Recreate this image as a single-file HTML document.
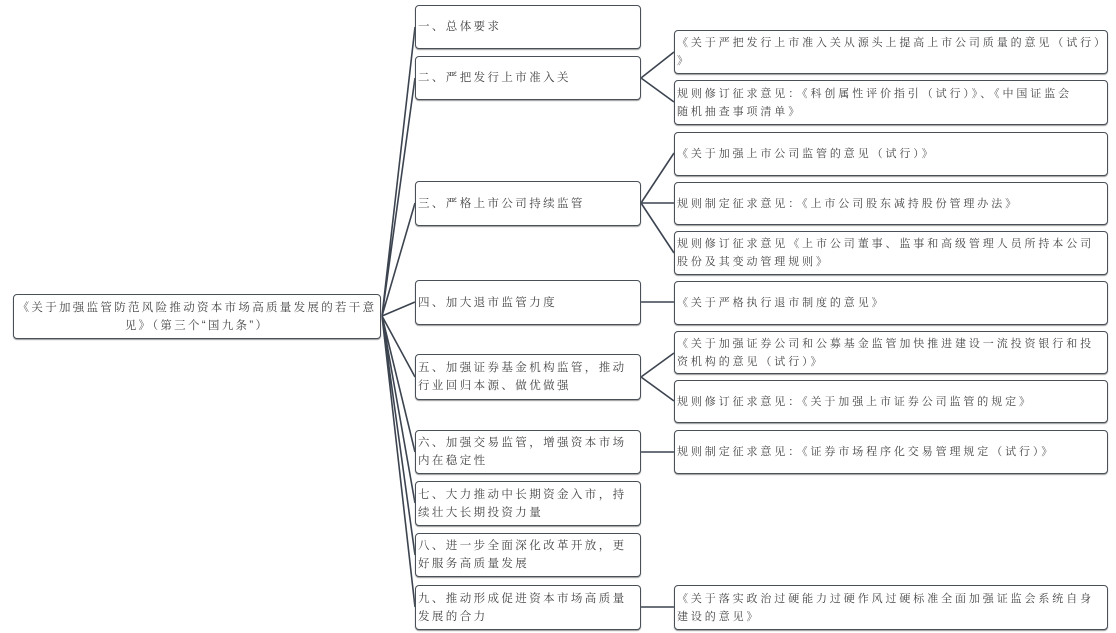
<!DOCTYPE html>
<html><head><meta charset="utf-8"><style>
body{margin:0;width:1116px;height:633px;background:#fff;position:relative;overflow:hidden;font-family:"Liberation Sans","Noto Serif CJK SC","Noto Sans CJK SC",sans-serif;color:#444;}
.b{position:absolute;border:1.6px solid #4a5058;border-radius:4px;box-sizing:border-box;background:#fff;font-size:11px;letter-spacing:2.6px;line-height:18px;padding:0 2px;display:flex;align-items:center;box-shadow:0 1px 1px #999;}
.m{left:415px;width:226px;letter-spacing:2.4px;font-size:11.5px;}
.r{left:674px;width:434px;letter-spacing:2.9px;white-space:nowrap;overflow:hidden;}
svg{position:absolute;left:0;top:0}
</style></head><body>
<svg width="1116" height="633">
<g stroke="#3c4450" stroke-width="1.6" fill="none">
<path d="M382 316 L415 27 M382 316 L415 78 M382 316 L415 203 M382 316 L415 302 M382 316 L415 377 M382 316 L415 452 M382 316 L415 503 M382 316 L415 555 M382 316 L415 607"/>
<path d="M641 78 L674 52 M641 78 L674 102 M641 203 L674 153 M641 203 L674 203 M641 203 L674 253 M641 302 L674 302 M641 377 L674 353 M641 377 L674 401 M641 452 L674 452 M641 607 L674 607"/>
</g></svg>
<div class="b" style="left:13px;top:294px;width:368px;height:45px;justify-content:center;text-align:center;font-size:11.5px;letter-spacing:2.3px">《关于加强监管防范风险推动资本市场高质量发展的若干意见》（第三个“国九条”）</div>
<div class="b m" style="top:5px;height:44px">一、总体要求</div>
<div class="b m" style="top:56px;height:44px">二、严把发行上市准入关</div>
<div class="b m" style="top:181px;height:45px">三、严格上市公司持续监管</div>
<div class="b m" style="top:280px;height:45px">四、加大退市监管力度</div>
<div class="b m" style="top:354px;height:46px">五、加强证券基金机构监管，推动行业回归本源、做优做强</div>
<div class="b m" style="top:430px;height:44px">六、加强交易监管，增强资本市场内在稳定性</div>
<div class="b m" style="top:481px;height:45px">七、大力推动中长期资金入市，持续壮大长期投资力量</div>
<div class="b m" style="top:533px;height:44px">八、进一步全面深化改革开放，更好服务高质量发展</div>
<div class="b m" style="top:585px;height:45px">九、推动形成促进资本市场高质量发展的合力</div>
<div class="b r" style="top:30px;height:44px"><div>《关于严把发行上市准入关从源头上提高上市公司质量的意见（试行）<br>》</div></div>
<div class="b r" style="top:80px;height:45px"><div>规则修订征求意见：《科创属性评价指引（试行）》、《中国证监会<br>随机抽查事项清单》</div></div>
<div class="b r" style="top:132px;height:44px">《关于加强上市公司监管的意见（试行）》</div>
<div class="b r" style="top:182px;height:43px">规则制定征求意见：《上市公司股东减持股份管理办法》</div>
<div class="b r" style="top:231px;height:44px"><div>规则修订征求意见《上市公司董事、监事和高级管理人员所持本公司<br>股份及其变动管理规则》</div></div>
<div class="b r" style="top:281px;height:44px">《关于严格执行退市制度的意见》</div>
<div class="b r" style="top:331px;height:43px"><div>《关于加强证券公司和公募基金监管加快推进建设一流投资银行和投<br>资机构的意见（试行）》</div></div>
<div class="b r" style="top:380px;height:43px">规则修订征求意见：《关于加强上市证券公司监管的规定》</div>
<div class="b r" style="top:430px;height:44px">规则制定征求意见：《证券市场程序化交易管理规定（试行）》</div>
<div class="b r" style="top:585px;height:45px"><div>《关于落实政治过硬能力过硬作风过硬标准全面加强证监会系统自身<br>建设的意见》</div></div>
</body></html>
